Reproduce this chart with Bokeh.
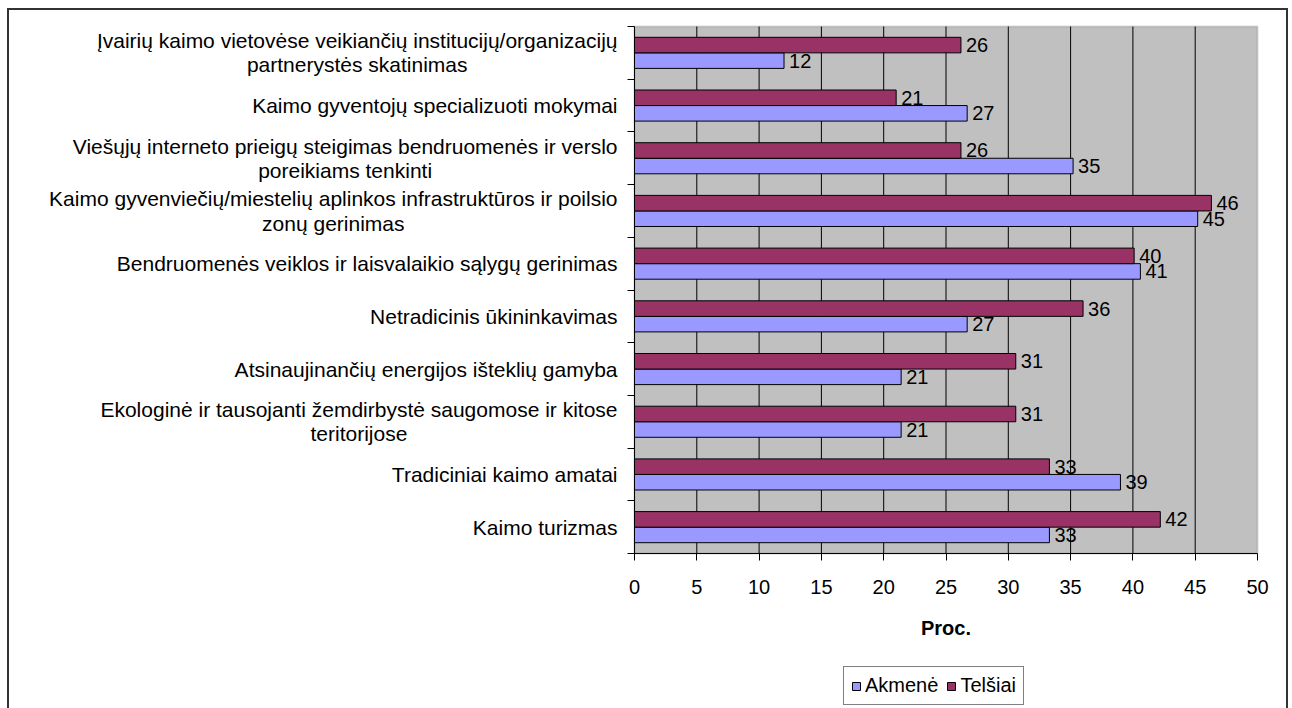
from bokeh.plotting import figure
from bokeh.models import (ColumnDataSource, FixedTicker, Range1d, Legend, LegendItem,
                          Label, LinearAxis, BoxAnnotation)
from bokeh.core.properties import value
from bokeh.embed import file_html
from bokeh.resources import INLINE

# ---- data (top to bottom, as in the chart) ----
categories = [
    "Įvairių kaimo vietovėse veikiančių institucijų/organizacijų\npartnerystės skatinimas",
    "Kaimo gyventojų specializuoti mokymai",
    "Viešųjų interneto prieigų steigimas bendruomenės ir verslo\nporeikiams tenkinti",
    "Kaimo gyvenviečių/miestelių aplinkos infrastruktūros ir poilsio\nzonų gerinimas",
    "Bendruomenės veiklos ir laisvalaikio sąlygų gerinimas",
    "Netradicinis ūkininkavimas",
    "Atsinaujinančių energijos išteklių gamyba",
    "Ekologinė ir tausojanti žemdirbystė saugomose ir kitose\nteritorijose",
    "Tradiciniai kaimo amatai",
    "Kaimo turizmas",
]
series_names = ["Akmenė", "Telšiai"]
akmene = [12.0, 26.7, 35.2, 45.2, 40.6, 26.7, 21.4, 21.4, 39.0, 33.3]
telsiai = [26.2, 21.0, 26.2, 46.3, 40.1, 36.0, 30.6, 30.6, 33.3, 42.2]
x_ticks = [0, 5, 10, 15, 20, 25, 30, 35, 40, 45, 50]
x_title = "Proc."

# ---- style / layout ----
FONT = "Liberation Sans"
FS = "20px"
FS_CAT = "21px"
C_AK = "#9999FF"
C_TE = "#993366"
C_BG = "#C0C0C0"

FIG_W, FIG_H = 1281, 700          # canvas size (placed at page 7, 8)
PA_LEFT, PA_RIGHT = 627, 1250     # plot area in canvas pixels
PA_TOP, PA_BOTTOM = 18, 545

n = len(categories)
centers = [n - i - 0.5 for i in range(n)]
bar_h = 0.295

ux = (PA_RIGHT - PA_LEFT) / (x_ticks[-1] - x_ticks[0])
x_lo = x_ticks[0] - PA_LEFT / ux
x_hi = x_ticks[-1] + (FIG_W - PA_RIGHT) / ux
uy = (PA_BOTTOM - PA_TOP) / n
y_hi = n + PA_TOP / uy
y_lo = -(FIG_H - PA_BOTTOM) / uy

src_a = ColumnDataSource(dict(
    y=[c - bar_h / 2 for c in centers], right=akmene,
    label=[f"{v:.0f}" for v in akmene]))
src_t = ColumnDataSource(dict(
    y=[c + bar_h / 2 for c in centers], right=telsiai,
    label=[f"{v:.0f}" for v in telsiai]))

p = figure(frame_width=FIG_W, frame_height=FIG_H,
           x_range=Range1d(x_lo, x_hi), y_range=Range1d(y_lo, y_hi),
           x_axis_location=None, y_axis_location=None,
           output_backend="svg", toolbar_location=None,
           min_border=0, background_fill_color=None, border_fill_color=None)
p.outline_line_color = None
p.xgrid.visible = False
p.ygrid.visible = False
p.styles = {"margin-left": "7px", "margin-top": "8px",
            "box-shadow": "inset 2px 2px 0 #333333, inset -2px 0 0 #333333",
            "background-color": "white"}

# plot area background
p.add_layout(BoxAnnotation(left=x_ticks[0], right=x_ticks[-1], bottom=0, top=n,
                           fill_color=C_BG, fill_alpha=1,
                           line_color="#808080", line_width=2, level="image"))

# vertical grid lines
gx = x_ticks[1:-1]
p.segment(x0=gx, y0=[0] * len(gx), x1=gx, y1=[n] * len(gx),
          line_color="black", line_width=1)

ra = p.hbar(y="y", left=0, right="right", height=bar_h, source=src_a,
            fill_color=C_AK, line_color="black", line_width=1)
rt = p.hbar(y="y", left=0, right="right", height=bar_h, source=src_t,
            fill_color=C_TE, line_color="black", line_width=1)

for src in (src_t, src_a):
    p.text(x="right", y="y", text="label", source=src, x_offset=5,
           text_align="left", text_baseline="middle",
           text_font=value(FONT), text_font_size=FS, text_color="black")

# x axis
xa = LinearAxis(fixed_location=0, bounds=(x_ticks[0], x_ticks[-1]),
                ticker=FixedTicker(ticks=x_ticks))
xa.major_tick_out = 7
xa.major_tick_in = 0
xa.minor_tick_out = 0
xa.minor_tick_in = 0
xa.axis_line_color = "black"
xa.major_tick_line_color = "black"
xa.major_label_text_font = FONT
xa.major_label_text_font_size = FS
xa.major_label_text_color = "black"
xa.major_label_standoff = 19
xa.axis_label = x_title
xa.axis_label_text_font = FONT
xa.axis_label_text_font_size = FS
xa.axis_label_text_font_style = "bold"
xa.axis_label_text_color = "black"
xa.axis_label_standoff = 20
p.add_layout(xa, "below")

# y axis: ticks at category boundaries
ya = LinearAxis(fixed_location=0, bounds=(0, n),
                ticker=FixedTicker(ticks=centers, minor_ticks=list(range(n + 1))))
ya.major_label_overrides = {c: "" for c in centers}
ya.major_tick_out = 0
ya.major_tick_in = 0
ya.minor_tick_out = 7
ya.minor_tick_in = 0
ya.minor_tick_line_color = "black"
ya.axis_line_color = "black"
p.add_layout(ya, "left")

# category labels: right-anchored blocks with centred lines
for c, lab in zip(centers, categories):
    p.add_layout(Label(x=0, y=c, text=lab, x_offset=-17,
                       anchor="center_right", text_align="center",
                       text_baseline="middle", text_line_height=1.05,
                       text_font=FONT, text_font_size=FS_CAT,
                       text_color="black"))

legend = Legend(items=[LegendItem(label=series_names[0], renderers=[ra]),
                       LegendItem(label=series_names[1], renderers=[rt])],
                orientation="horizontal", location=(836, 3),
                border_line_color="black", border_line_width=1,
                background_fill_color="white", background_fill_alpha=1,
                label_text_font=FONT, label_text_font_size=FS,
                label_text_color="black",
                glyph_width=10, glyph_height=10, label_standoff=4,
                spacing=8, padding=7, margin=0, label_height=20)
p.add_layout(legend, "center")

open("out.html", "w").write(file_html(p, INLINE))
